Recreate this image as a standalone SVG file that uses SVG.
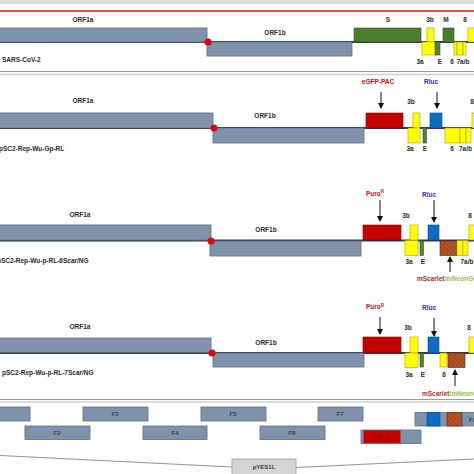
<svg xmlns="http://www.w3.org/2000/svg" width="474" height="474" viewBox="0 0 474 474">
<style>
text{font-family:"Liberation Sans",Arial,sans-serif;font-size:6.5px;font-weight:bold;fill:#2a2a2a}
.c{text-anchor:middle}
.orf{fill:#8093ad;stroke:#5d6b80;stroke-width:0.8}
.grn{fill:#4c7d2c;stroke:#34561e;stroke-width:0.6}
.e{fill:#5a7e3e;stroke:#34561e;stroke-width:0.6}
.yel{fill:#ffff00;stroke:#a89a00;stroke-width:0.6}
.red{fill:#c40000;stroke:#8a0000;stroke-width:0.6}
.blu{fill:#0a6fc4;stroke:#084a80;stroke-width:0.6}
.hat{fill:url(#hatch);stroke:#4a2a10;stroke-width:0.6}
.gl{stroke:#2e3a4a;stroke-width:1.8}
.dot{fill:#e00010}
.arr{stroke:#111;stroke-width:1;fill:none;marker-end:url(#ah)}
.sep1{stroke:#999;stroke-width:1}
.sep2{stroke:#cfcfcf;stroke-width:1.5}
.rt{fill:#c0101a}
.bt{fill:#2a2ad0}
.ms{fill:#a8302a}
.mn{fill:#90c050}
.fb{fill:#8093ad;stroke:#5d6b80;stroke-width:0.8}
.fl{fill:#3a3a3a;font-size:6px}
</style>
<defs>
<pattern id="hatch" patternUnits="userSpaceOnUse" width="3" height="3" patternTransform="rotate(-45)">
<rect width="3" height="3" fill="#a8461e"/>
<line x1="0" y1="0" x2="0" y2="3" stroke="#d8703a" stroke-width="1.2"/>
</pattern>
<marker id="ah" markerWidth="6" markerHeight="6" refX="5" refY="3" orient="auto" markerUnits="userSpaceOnUse">
<path d="M0,0 L6,3 L0,6 z" fill="#111"/>
</marker>
</defs>
<rect width="474" height="474" fill="#fff"/>
<rect x="0" y="0" width="474" height="4" fill="#dcdcdc"/>
<line x1="0" y1="11" x2="474" y2="11" stroke="#e01010" stroke-width="1.3"/>
<line class="sep1" x1="0" y1="71.5" x2="474" y2="71.5"/>
<line class="sep2" x1="0" y1="74.5" x2="474" y2="74.5"/>
<line class="sep1" x1="0" y1="399.5" x2="474" y2="399.5"/>
<line class="sep2" x1="0" y1="402" x2="474" y2="402"/>

<g id="connectors">
<line class="arr" x1="381" y1="92" x2="381" y2="108"/>
<line class="arr" x1="437" y1="92" x2="437" y2="108"/>
<line class="arr" x1="380" y1="200" x2="380" y2="221"/>
<line class="arr" x1="434" y1="200" x2="434" y2="222"/>
<line class="arr" x1="450" y1="272" x2="450" y2="257"/>
<line class="arr" x1="380" y1="317" x2="380" y2="334"/>
<line class="arr" x1="434" y1="318" x2="434" y2="336"/>
<line class="arr" x1="455" y1="386" x2="455" y2="370"/>
<polyline points="0,455.5 232,467" fill="none" stroke="#777" stroke-width="0.8"/>
<polyline points="296,467.5 474,459" fill="none" stroke="#777" stroke-width="0.8"/>
</g>

<g id="sars-cov-2">
<line class="gl" x1="0" y1="42" x2="474" y2="42"/>
<rect class="orf" x="-1" y="28" width="208" height="14"/>
<rect class="orf" x="207" y="42" width="145" height="14"/>
<rect class="grn" x="354" y="28" width="67" height="14"/>
<rect class="yel" x="427" y="28" width="7" height="14"/>
<rect class="yel" x="422" y="42" width="14" height="13"/>
<rect class="e" x="435" y="42" width="5" height="13"/>
<rect class="grn" x="443" y="28" width="11" height="14"/>
<rect class="yel" x="454" y="42" width="3" height="13"/>
<rect class="yel" x="457" y="42" width="6" height="13"/>
<rect class="yel" x="463" y="42" width="3" height="13"/>
<rect class="yel" x="468" y="28" width="8" height="14"/>
<circle class="dot" cx="208" cy="42" r="3.5"/>
<text class="c" x="83" y="21.5">ORF1a</text>
<text class="c" x="275" y="34.5">ORF1b</text>
<text class="c" x="388" y="21.5">S</text>
<text class="c" x="430" y="21.5">3b</text>
<text class="c" x="446" y="21.5">M</text>
<text class="c" x="465" y="21.5">8</text>
<text class="c" x="420" y="64">3a</text>
<text class="c" x="440" y="64">E</text>
<text class="c" x="452" y="64">6</text>
<text class="c" x="463" y="64">7a/b</text>
<text x="2" y="62">SARS-CoV-2</text>
</g>

<g id="gp-rl">
<line class="gl" x1="0" y1="128" x2="474" y2="128"/>
<rect class="orf" x="-1" y="113" width="214" height="15"/>
<rect class="orf" x="213" y="128" width="151" height="15"/>
<rect class="red" x="366" y="113" width="37" height="15"/>
<rect class="yel" x="413" y="113" width="7" height="15"/>
<rect class="yel" x="408" y="128" width="12" height="15"/>
<rect class="e" x="423" y="128" width="3.5" height="15"/>
<rect class="blu" x="430" y="113" width="12" height="15"/>
<rect class="yel" x="445" y="128" width="15" height="15"/>
<rect class="yel" x="460" y="128" width="6" height="15"/>
<rect class="yel" x="466" y="128" width="5" height="15"/>
<rect class="yel" x="472" y="113" width="6" height="15"/>
<circle class="dot" cx="214" cy="128" r="3.5"/>
<text class="c" x="83" y="103">ORF1a</text>
<text class="c" x="265" y="118">ORF1b</text>
<text class="c rt" x="378" y="84">eGFP-PAC</text>
<text class="c bt" x="431" y="84">Rluc</text>
<text class="c" x="411" y="104">3b</text>
<text class="c" x="472" y="104">8</text>
<text class="c" x="410" y="151">3a</text>
<text class="c" x="425" y="151">E</text>
<text class="c" x="452" y="151">6</text>
<text x="459" y="151">7a/b</text>
<text x="-1" y="151">pSC2-Rep-Wu-Gp-RL</text>
</g>

<g id="rl-6scar">
<line class="gl" x1="0" y1="240.5" x2="474" y2="240.5"/>
<rect class="orf" x="-1" y="225" width="212" height="15"/>
<rect class="orf" x="210" y="241" width="151" height="15"/>
<rect class="red" x="363" y="225" width="38" height="15"/>
<rect class="yel" x="410" y="225" width="8" height="15"/>
<rect class="yel" x="405" y="240.5" width="13" height="15"/>
<rect class="e" x="420" y="240.5" width="3.5" height="15"/>
<rect class="blu" x="428" y="225" width="11" height="15"/>
<rect class="hat" x="440" y="241" width="17" height="14.5"/>
<rect class="yel" x="457" y="240.5" width="6" height="15"/>
<rect class="yel" x="463" y="240.5" width="5" height="15"/>
<rect class="yel" x="469" y="225" width="7" height="15"/>
<circle class="dot" cx="211" cy="241" r="3.5"/>
<text class="c" x="80" y="216.5">ORF1a</text>
<text class="c" x="266" y="231.5">ORF1b</text>
<text class="c rt" x="375" y="195.5">Puro<tspan font-size="4.5" dy="-2.5">R</tspan></text>
<text class="c bt" x="429" y="196.5">Rluc</text>
<text class="c" x="406" y="218">3b</text>
<text class="c" x="470" y="218">8</text>
<text class="c" x="409" y="264">3a</text>
<text class="c" x="423" y="264">E</text>
<text class="c" x="467" y="264">7a/b</text>
<text x="417" y="281"><tspan class="ms">mScarlet</tspan><tspan class="mn">/mNeonGreen</tspan></text>
<text x="-3" y="263">pSC2-Rep-Wu-p-RL-6Scar/NG</text>
</g>

<g id="rl-7scar">
<line class="gl" x1="0" y1="353" x2="474" y2="353"/>
<rect class="orf" x="-1" y="338" width="212" height="14.5"/>
<rect class="orf" x="213" y="353" width="151" height="14"/>
<rect class="red" x="363" y="337" width="38" height="16"/>
<rect class="yel" x="410" y="337" width="8" height="16"/>
<rect class="yel" x="405" y="353" width="13" height="14.5"/>
<rect class="e" x="420" y="353" width="3.5" height="14"/>
<rect class="blu" x="428" y="337" width="11" height="16"/>
<rect class="yel" x="440" y="353" width="7" height="14"/>
<rect class="hat" x="448" y="353" width="17" height="14.5"/>
<rect class="yel" x="469" y="337" width="7" height="16"/>
<circle class="dot" cx="212" cy="353" r="3.5"/>
<text class="c" x="80" y="329">ORF1a</text>
<text class="c" x="266" y="345">ORF1b</text>
<text class="c rt" x="375" y="309">Puro<tspan font-size="4.5" dy="-2.5">R</tspan></text>
<text class="c bt" x="429" y="309.5">Rluc</text>
<text class="c" x="408" y="329.5">3b</text>
<text class="c" x="469" y="329.5">8</text>
<text class="c" x="409" y="377">3a</text>
<text class="c" x="423" y="377">E</text>
<text class="c" x="444" y="377">6</text>
<text x="422" y="396"><tspan class="ms">mScarlet</tspan><tspan class="mn">/mNeonGreen</tspan></text>
<text x="2" y="375">pSC2-Rep-Wu-p-RL-7Scar/NG</text>
</g>

<g id="fragments">
<g id="F1"><rect class="fb" x="-1" y="407" width="31" height="14"/></g>
<g id="F2"><rect class="fb" x="25" y="426" width="65" height="13.5"/><text class="c fl" x="57" y="435">F2</text></g>
<g id="F3"><rect class="fb" x="83" y="407" width="65" height="14"/><text class="c fl" x="115" y="416">F3</text></g>
<g id="F4"><rect class="fb" x="143" y="426" width="64" height="13.5"/><text class="c fl" x="175" y="435">F4</text></g>
<g id="F5"><rect class="fb" x="201" y="407" width="65" height="14"/><text class="c fl" x="233" y="416">F5</text></g>
<g id="F6"><rect class="fb" x="260" y="426" width="65" height="13.5"/><text class="c fl" x="292" y="435">F6</text></g>
<g id="F7"><rect class="fb" x="318" y="407" width="45" height="14"/><text class="c fl" x="340" y="416">F7</text></g>
<g id="F8"><rect class="fb" x="361" y="430" width="60" height="13.5"/><rect x="363.5" y="430.4" width="37" height="12.7" fill="#c40000"/><text class="c fl" x="382" y="439" style="fill:#7a1010">F8_G</text></g>
<g id="F9"><rect class="fb" x="415" y="412.5" width="62" height="13.5"/><rect class="blu" x="427" y="412.5" width="13" height="13.5"/><rect class="hat" x="447" y="412.5" width="15" height="13.5"/><text class="fl" x="469" y="421.5">F9</text></g>
<g id="pYES1L"><rect x="232" y="459" width="64" height="17" fill="#d4d4d4" stroke="#999" stroke-width="0.8"/><text class="c fl" x="264" y="469">pYES1L</text></g>
</g>
</svg>
